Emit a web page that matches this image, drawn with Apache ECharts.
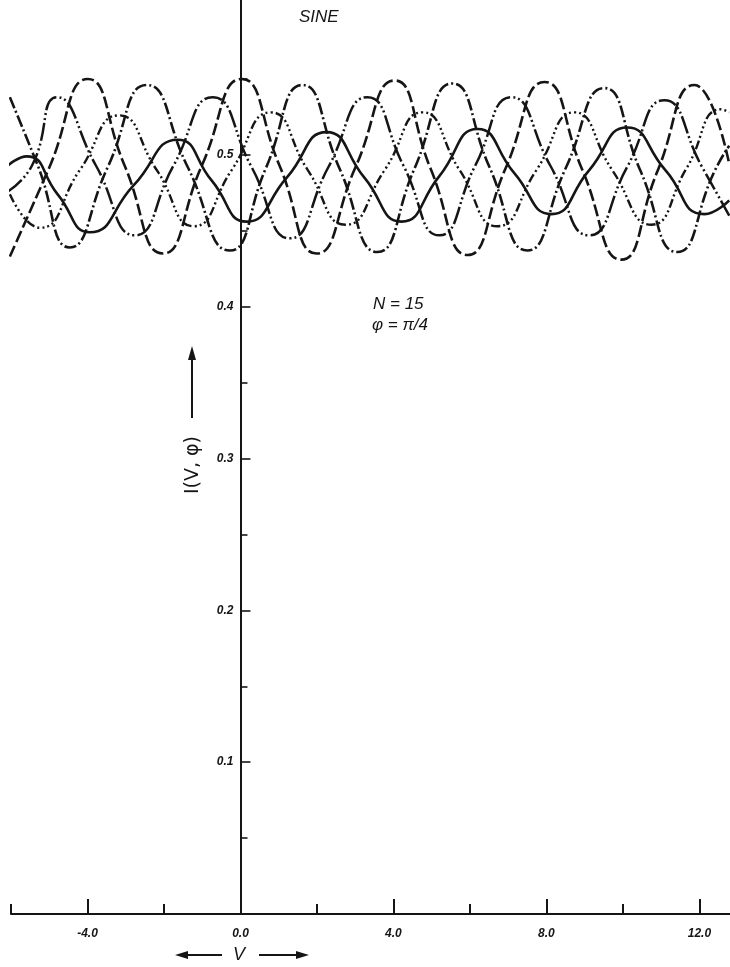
<!DOCTYPE html>
<html><head><meta charset="utf-8">
<script src="https://cdn.jsdelivr.net/npm/echarts@6/dist/echarts.min.js"></script>
<style>html,body{margin:0;padding:0;background:#fff}#c{width:730px;height:967px}</style>
</head><body><div id="c"></div>
<script>
// ---- data (V, I) ----
const xMajorTicks = [-4, 0, 4, 8, 12];
const xMinorTicks = [-6, -2, 2, 6, 10];
const yMajorTicks = [0.1, 0.2, 0.3, 0.4, 0.5];
const yMinorTicks = [0.05, 0.15, 0.25, 0.35, 0.45, 0.55];
const xLabelText = ['-4.0', '0.0', '4.0', '8.0', '12.0'];
const yLabelText = ['0.1', '0.2', '0.3', '0.4', '0.5'];

const curveDashA = [[-6.03,0.433],[-5.01,0.491],[-3.99,0.550],[-3.03,0.493],[-2.03,0.435],[-1.01,0.493],[0.03,0.550],[1.02,0.493],[1.99,0.435],[3.01,0.492],[4.03,0.549],[4.97,0.491],[5.94,0.434],[6.93,0.491],[7.95,0.548],[8.94,0.490],[9.96,0.431],[10.90,0.489],[11.87,0.546],[12.78,0.494]];
const curveDashB = [[-6.03,0.538],[-5.30,0.493],[-4.46,0.439],[-3.47,0.492],[-2.45,0.546],[-1.38,0.492],[-0.28,0.437],[0.66,0.491],[1.62,0.546],[2.59,0.491],[3.58,0.436],[4.55,0.491],[5.54,0.547],[6.51,0.492],[7.50,0.437],[8.50,0.491],[9.51,0.544],[10.45,0.490],[11.42,0.436],[12.41,0.490],[12.78,0.506]];
const curveSolidA = [[-6.08,0.493],[-5.59,0.499],[-4.78,0.474],[-3.94,0.449],[-2.79,0.480],[-1.64,0.510],[-0.75,0.483],[0.16,0.456],[1.21,0.485],[2.25,0.515],[3.24,0.485],[4.21,0.456],[5.20,0.486],[6.20,0.517],[7.16,0.488],[8.13,0.461],[9.12,0.490],[10.11,0.518],[11.11,0.490],[12.13,0.461],[12.78,0.470]];
const curveDashDotA = [[-6.08,0.476],[-5.45,0.493],[-4.80,0.538],[-3.78,0.493],[-2.76,0.447],[-1.75,0.493],[-0.73,0.538],[0.29,0.492],[1.29,0.445],[2.30,0.492],[3.32,0.538],[4.26,0.493],[5.20,0.447],[6.14,0.493],[7.08,0.538],[8.10,0.493],[9.12,0.447],[10.11,0.492],[11.08,0.536],[12.07,0.492],[12.78,0.460]];
const curveDashDotB = [[-6.03,0.474],[-5.25,0.452],[-4.20,0.490],[-3.18,0.526],[-2.19,0.490],[-1.22,0.453],[-0.23,0.490],[0.79,0.528],[1.76,0.490],[2.75,0.454],[3.77,0.490],[4.76,0.528],[5.73,0.490],[6.72,0.453],[7.74,0.490],[8.73,0.528],[9.72,0.490],[10.74,0.454],[11.66,0.491],[12.57,0.530],[12.78,0.528]];

const INK = '#151515';
const labelFont = { fontFamily: 'Liberation Sans', fontStyle: 'italic', fontWeight: 'bold', fontSize: 12, color: INK };

const chart = echarts.init(document.getElementById('c'), null, { renderer: 'canvas' });
const X0 = -6, X1 = 12.8, Y0 = 0, Y1 = 0.602;
const GL = 11, GB = 53;
const zeroPx = GL + (0 - X0) / (X1 - X0) * (730 - GL);

function line(data, type, w) {
  return { type: 'line', data: data, xAxisIndex: 0, yAxisIndex: 0, smooth: 0.55, showSymbol: false, symbol: 'none',
    lineStyle: { color: INK, width: w || 2.6, type: type, cap: 'butt' }, silent: true, animation: false, z: 2 };
}

chart.setOption({
  animation: false,
  backgroundColor: '#fff',
  grid: [
    { left: GL, right: 0, top: 0, bottom: GB, containLabel: false, outerBoundsMode: 'none' },
    { left: zeroPx, right: 0, top: 0, bottom: GB, containLabel: false, outerBoundsMode: 'none' }
  ],
  xAxis: [
    { type: 'value', gridIndex: 0, min: X0, max: X1, position: 'bottom',
      axisLine: { show: true, onZero: false, lineStyle: { color: INK, width: 2 } },
      axisTick: { show: true, inside: true, length: 15, customValues: xMajorTicks, lineStyle: { color: INK, width: 2 } },
      axisLabel: { show: true, customValues: xMajorTicks, margin: 14, formatter: v => xLabelText[xMajorTicks.indexOf(v)] || '', ...labelFont },
      splitLine: { show: false } },
    { type: 'value', gridIndex: 0, min: X0, max: X1, position: 'bottom',
      axisLine: { show: false, onZero: false },
      axisTick: { show: true, inside: true, length: 10, customValues: xMinorTicks, lineStyle: { color: INK, width: 2 } },
      axisLabel: { show: false }, splitLine: { show: false } },
    { type: 'value', gridIndex: 1, min: 0, max: 1, show: false }
  ],
  yAxis: [
    { type: 'value', gridIndex: 0, min: Y0, max: Y1, show: false },
    { type: 'value', gridIndex: 1, min: Y0, max: Y1, position: 'left', z: 5,
      axisLine: { show: true, onZero: false, lineStyle: { color: INK, width: 2 } },
      axisTick: { show: true, inside: true, length: 10, customValues: yMajorTicks, lineStyle: { color: INK, width: 1.6 } },
      axisLabel: { show: true, customValues: yMajorTicks, margin: 6, backgroundColor: '#fff', padding: [1, 1],
        formatter: v => yLabelText[yMajorTicks.indexOf(v)] || '', ...labelFont },
      splitLine: { show: false } },
    { type: 'value', gridIndex: 1, min: Y0, max: Y1, position: 'left', z: 5,
      axisLine: { show: false, onZero: false },
      axisTick: { show: true, inside: true, length: 7, customValues: yMinorTicks, lineStyle: { color: INK, width: 1.6 } },
      axisLabel: { show: false }, splitLine: { show: false } }
  ],
  series: [
    line(curveDashA, [12, 4]),
    line(curveDashB, [12, 3, 2, 3]),
    line(curveSolidA, 'solid'),
    line(curveDashDotA, [18, 3, 2, 3, 2, 3], 2.5),
    line(curveDashDotB, [9, 3, 2, 3, 2, 3, 2, 3, 2, 3], 2.4)
  ],
  graphic: [
    { type: 'text', left: 299, top: 9, style: { text: 'SINE', font: 'italic 17px "Liberation Sans"', fill: INK } },
    { type: 'text', left: 373, top: 296, style: { text: 'N = 15', font: 'italic 17px "Liberation Sans"', fill: INK } },
    { type: 'text', left: 372, top: 317, style: { text: 'φ = π/4', font: 'italic 17px "Liberation Sans"', fill: INK } },
    { type: 'text', x: 193, y: 465, rotation: Math.PI / 2,
      style: { text: 'I(V, φ)', font: '19px "DejaVu Sans"', fill: INK, align: 'center', verticalAlign: 'middle' } },
    { type: 'line', shape: { x1: 192, y1: 418, x2: 192, y2: 356 }, style: { stroke: INK, lineWidth: 2 } },
    { type: 'polygon', shape: { points: [[192, 346], [188, 360], [196, 360]] }, style: { fill: INK } },
    { type: 'text', x: 239, y: 955, style: { text: 'V', font: 'italic 18px "Liberation Sans"', fill: INK, align: 'center', verticalAlign: 'middle' } },
    { type: 'line', shape: { x1: 185, y1: 955, x2: 222, y2: 955 }, style: { stroke: INK, lineWidth: 2 } },
    { type: 'polygon', shape: { points: [[175, 955], [188, 951], [188, 959]] }, style: { fill: INK } },
    { type: 'line', shape: { x1: 259, y1: 955, x2: 298, y2: 955 }, style: { stroke: INK, lineWidth: 2 } },
    { type: 'polygon', shape: { points: [[309, 955], [296, 951], [296, 959]] }, style: { fill: INK } }
  ]
});
</script>
</body></html>
